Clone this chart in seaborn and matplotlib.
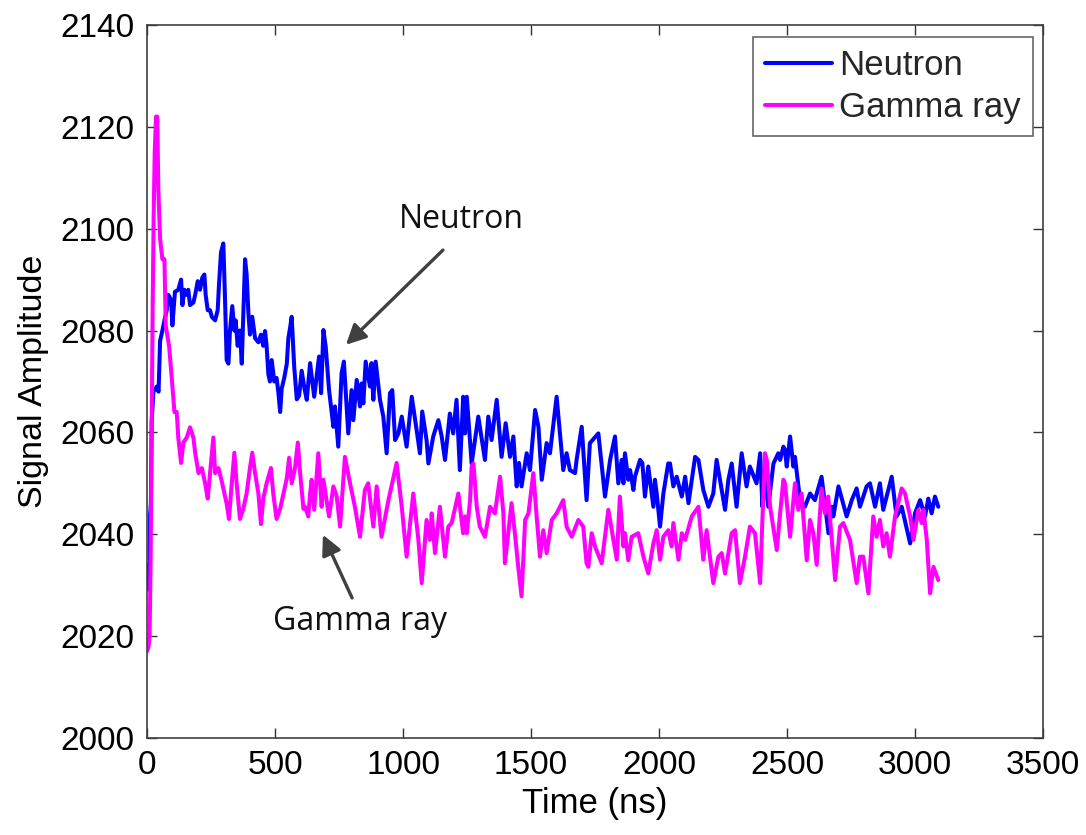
import matplotlib
matplotlib.use("Agg")
import matplotlib.pyplot as plt
import seaborn as sns
import pandas as pd

# Neutron pulse: time (ns) and signal amplitude
time_neutron = [0, 5, 9, 12, 15, 18, 25, 38, 45, 51, 60, 68, 77, 83, 94, 99, 109, 122, 133, 138,
                146, 155, 161, 168, 181, 188, 198, 207, 216, 224, 229, 237, 246, 253, 266, 276, 281, 289, 298, 305,
                311, 318, 324, 333, 341, 346, 354, 363, 370, 376, 383, 389, 396, 402, 411, 422, 435, 445, 454, 461,
                467, 474, 480, 487, 497, 506, 513, 520, 526, 536, 546, 552, 559, 565, 575, 585, 594, 604, 615,
                624, 637, 653, 672, 680, 689, 698, 711, 728, 734, 747, 760, 769, 786, 799, 806, 819, 832, 838, 845,
                854, 871, 877, 884, 893, 910, 923, 936, 949, 958, 969, 982, 995, 1014, 1034, 1053, 1066, 1075, 1092,
                1099, 1118, 1138, 1151, 1164, 1183, 1196, 1209, 1222, 1235,
                1242, 1249, 1268, 1294, 1320, 1333, 1346, 1366, 1385, 1401, 1418, 1431, 1444, 1453, 1463, 1483, 1496,
                1516, 1529, 1542, 1561, 1574, 1600, 1613, 1626, 1639, 1652, 1672, 1678, 1698, 1717, 1730, 1763, 1789,
                1809, 1828, 1841, 1854, 1861,
                1867, 1880, 1887, 1900, 1906, 1926, 1935, 1945, 1958, 1978, 1984, 1991, 2004, 2017, 2036, 2043, 2056,
                2069, 2089, 2102, 2115, 2128, 2141, 2154, 2173, 2193, 2212, 2225, 2238, 2258, 2271, 2284, 2303, 2323,
                2342, 2355, 2381, 2395, 2404, 2411, 2427, 2447, 2466, 2473, 2486,
                2492, 2499, 2512, 2525, 2531, 2551, 2570, 2590, 2609, 2635, 2662, 2675, 2681, 2701, 2733, 2753, 2772,
                2785, 2811, 2824, 2844, 2863, 2876, 2909, 2928, 2948, 2981, 3000, 3020, 3039, 3052, 3065, 3078, 3091]
amp_neutron = [2030, 2034, 2029, 2044, 2046, 2062, 2068, 2069, 2068, 2078, 2080, 2082, 2084, 2087, 2086, 2081, 2087.6, 2088, 2090, 2085,
               2088, 2087, 2088, 2085, 2085.5, 2087, 2089.7, 2088, 2090.4, 2091, 2087, 2084, 2084, 2082.7, 2082, 2084, 2089, 2095.4, 2097.1, 2085.5,
               2074.2, 2073.5, 2080, 2084.8, 2080, 2082, 2077, 2080, 2073.5, 2082.7, 2094, 2091, 2083.4, 2079.2, 2082.7, 2078.5, 2077.7, 2079.2, 2077, 2079.9,
               2077, 2071.4, 2070, 2074.2, 2070, 2070.7, 2067.9, 2064, 2068.6, 2070.7, 2073.5, 2078.5, 2080.6, 2082.7, 2072.8, 2066.5, 2067.2, 2072.1, 2068.6,
               2066.4, 2073.6, 2067.0, 2074.9, 2067.7, 2080.1, 2076.8, 2068.3, 2061.1, 2065.1, 2057.2, 2071.6, 2073.9, 2059.8, 2068.3, 2062.4, 2070.3, 2065.1, 2069.6, 2065.7,
               2073.9, 2069.0, 2073.6, 2066.4, 2073.9, 2066.4, 2063.1, 2055.9, 2067.7, 2068.3, 2058.5, 2059.8, 2063.1, 2057.2, 2067.0, 2060.5, 2055.9, 2064.1, 2058.5,
               2053.9, 2059.2, 2062.4, 2059.2, 2054.6, 2063.7, 2059.8, 2066.4, 2052.6, 2067.0,
               2059.8, 2067.0, 2053.9, 2063.1, 2054.6, 2063.1, 2058.5, 2066.4, 2055.2, 2061.8, 2055.2, 2059.2, 2049.4, 2054.0, 2049.4, 2055.9, 2052.6,
               2064.4, 2061.1, 2050.7, 2057.9, 2055.9, 2067.0, 2059.8, 2052.6, 2055.9, 2052.6, 2052.0, 2054.6, 2061.1, 2046.7, 2057.9, 2059.8, 2047.4,
               2054.6, 2059.2, 2050.0, 2054.6, 2050.0,
               2055.9, 2050.7, 2052.6, 2048.7, 2051.3, 2054.6, 2054.0, 2047.4, 2053.3, 2045.4, 2050.7, 2048.0, 2041.5, 2048.0, 2053.9, 2053.9, 2049.4,
               2051.3, 2047.4, 2051.3, 2046.1, 2050.7, 2055.2, 2054.6, 2048.7, 2045.4, 2048.0, 2054.6, 2050.7, 2044.8, 2050.7, 2053.9, 2045.4, 2055.9,
               2049.4, 2053.3, 2050.0, 2055.9, 2045.4, 2051.3, 2045.4, 2053.9, 2055.9, 2054.6, 2057.2,
               2056.6, 2053.3, 2059.2, 2053.3, 2055.2, 2046.7, 2045.4, 2048.0, 2046.7, 2051.3, 2040.2, 2045.4, 2043.5, 2049.4, 2043.5, 2046.7, 2049.0,
               2045.4, 2049.4, 2050.0, 2045.4, 2050.0, 2044.8, 2051.3, 2043.5, 2045.4, 2038.2, 2044.1, 2046.7, 2043.5, 2047.0, 2044.1, 2047.4, 2045.4]

# Gamma-ray pulse: time (ns) and signal amplitude
time_gamma = [0, 6, 10, 14, 18, 22, 26, 30, 35, 40, 44, 51, 60, 68, 73, 86, 96, 107, 116, 122,
              133, 142, 155, 168, 181, 188, 201, 214, 227, 237, 246, 259, 266, 279, 289, 298, 311, 320, 331, 341,
              350, 363, 376, 389, 402, 411, 422, 435, 445, 454, 467, 484, 493, 506, 520, 533, 546, 555, 565, 578,
              589, 598, 611,
              617, 630, 637, 643, 653, 669, 682, 689, 711, 728, 741, 754, 773, 793, 812, 832, 851, 864, 884, 897,
              916, 943, 975, 995, 1014, 1040, 1060, 1073, 1092, 1105, 1112, 1125, 1144, 1164, 1177, 1190, 1216, 1235,
              1242, 1249, 1262, 1268, 1275, 1288, 1300, 1320, 1340, 1359, 1379, 1392, 1398, 1411, 1424, 1437, 1450,
              1463, 1477, 1490, 1509, 1522, 1535, 1548, 1561, 1581, 1600, 1626, 1639, 1659, 1685, 1704, 1717, 1724,
              1737, 1750, 1776, 1802, 1822, 1835, 1847, 1861,
              1867, 1880, 1893, 1919, 1939, 1958, 1978, 1991, 2004, 2017, 2036, 2049, 2056, 2076, 2089, 2102, 2128,
              2154, 2173, 2186, 2212, 2232, 2245, 2258, 2284, 2297, 2316, 2336, 2355, 2375, 2395, 2404, 2414, 2421,
              2434, 2460, 2473, 2486,
              2492, 2512, 2531, 2544, 2557, 2577, 2590, 2603, 2616, 2635, 2648, 2661, 2688, 2707, 2720, 2746, 2772,
              2785, 2798, 2818, 2837, 2850, 2863, 2876, 2889, 2902, 2922, 2948, 2961, 2981, 2994, 3013, 3026, 3033,
              3046, 3059, 3072, 3091]
amp_gamma = [2017, 2018, 2020, 2035, 2060, 2085, 2103, 2115, 2122, 2122, 2108, 2098, 2094, 2094, 2081, 2077, 2071, 2064, 2064, 2059,
             2054, 2058, 2059, 2061, 2059, 2056, 2052, 2053, 2050, 2047, 2052, 2059, 2052, 2053, 2051, 2049, 2046, 2043, 2050, 2056,
             2050, 2043, 2045, 2048, 2053, 2056, 2052, 2048, 2042, 2047, 2050, 2053, 2048, 2043, 2045, 2048, 2051, 2055, 2050, 2053,
             2058, 2052, 2045,
             2045.4, 2043.5, 2048.0, 2050.7, 2044.8, 2055.9, 2045.4, 2050.7, 2043.5, 2049.4, 2047.4, 2041.5, 2055.2, 2050.0, 2045.4, 2039.5, 2048.7, 2050.0, 2041.5, 2049.4,
             2039.5, 2046.7, 2054.0, 2045.4, 2035.6, 2048.0, 2038.9, 2030.4, 2042.8, 2038.9, 2044.1, 2036.3, 2045.4, 2035.6, 2041.5, 2042.2, 2048.0, 2040.2,
             2043.5, 2040.2, 2046.7, 2053.3, 2053.9, 2045.4, 2041.5, 2039.5, 2045.4, 2044.1, 2051.3, 2044.1, 2034.3, 2040.2, 2046.1, 2040.2, 2033.6,
             2027.8, 2042.8, 2044.1, 2052.0, 2043.5, 2035.6, 2040.8, 2036.3, 2042.8, 2044.1, 2046.7, 2041.5, 2039.5, 2042.8, 2041.5, 2034.3, 2033.6,
             2040.2, 2037.6, 2034.3, 2044.8, 2038.9, 2035.0, 2047.4, 2037.6,
             2040.2, 2034.9, 2039.5, 2040.2, 2035.6, 2032.3, 2038.2, 2040.8, 2035.0, 2039.5, 2040.8, 2037.6, 2042.2, 2035.0, 2040.2, 2038.9, 2043.5,
             2045.4, 2035.0, 2040.8, 2030.4, 2035.6, 2036.3, 2032.3, 2040.2, 2040.8, 2030.4, 2035.6, 2041.5, 2040.2, 2030.4, 2043.0, 2055.9, 2054.6,
             2045.4, 2036.9, 2044.1, 2050.7,
             2050.0, 2039.5, 2050.0, 2044.8, 2048.0, 2034.9, 2042.8, 2040.2, 2034.0, 2049.0, 2044.1, 2047.4, 2031.0, 2041.5, 2042.2, 2038.9, 2030.4,
             2035.6, 2035.6, 2028.4, 2043.5, 2039.5, 2042.8, 2037.6, 2040.2, 2035.6, 2043.5, 2049.0, 2048.0, 2043.5, 2038.9, 2044.8, 2042.2, 2044.8,
             2038.9, 2028.4, 2033.6, 2031.0]

series_names = ["Neutron", "Gamma ray"]
series_colors = ["#0000FF", "#FF00FF"]
x_ticks = [0, 500, 1000, 1500, 2000, 2500, 3000, 3500]
y_ticks = [2000, 2020, 2040, 2060, 2080, 2100, 2120, 2140]

df = pd.concat([
    pd.DataFrame({"Time (ns)": time_neutron, "Signal Amplitude": amp_neutron, "Signal": series_names[0]}),
    pd.DataFrame({"Time (ns)": time_gamma, "Signal Amplitude": amp_gamma, "Signal": series_names[1]}),
], ignore_index=True)

sns.set_theme(style="white")
plt.rcParams["font.family"] = ["Liberation Sans", "DejaVu Sans"]

fig = plt.figure(figsize=(10.86, 8.35), dpi=100)
ax = fig.add_axes([0.1354, 0.1162, 0.8250, 0.8539])

sns.lineplot(data=df, x="Time (ns)", y="Signal Amplitude", hue="Signal",
             hue_order=series_names, palette=dict(zip(series_names, series_colors)),
             estimator=None, sort=False, linewidth=2.9, ax=ax)

ax.set_xlim(x_ticks[0], x_ticks[-1])
ax.set_ylim(y_ticks[0], y_ticks[-1])
ax.set_xticks(x_ticks)
ax.set_yticks(y_ticks)
ax.tick_params(axis="both", which="major", direction="in", length=7, width=1.0,
               color="#333333", labelsize=24, pad=9,
               top=True, right=True, bottom=True, left=True, labelcolor="black")
for sp in ax.spines.values():
    sp.set_visible(True)
    sp.set_color("#404040")
    sp.set_linewidth(1.2)

ax.set_xlabel("Time (ns)", fontsize=25, labelpad=4, color="black")
ax.set_ylabel("Signal Amplitude", fontsize=24.5, labelpad=8, color="black")

handles, labels = ax.get_legend_handles_labels()
leg = ax.legend(handles, labels, loc="upper right", bbox_to_anchor=(0.989, 0.983),
                borderaxespad=0, fontsize=25, frameon=True, fancybox=False,
                handlelength=1.95, handletextpad=0.2, labelspacing=0.25,
                borderpad=0.35)
leg.get_frame().set_edgecolor("#404040")
leg.get_frame().set_linewidth(1.2)
for line in leg.get_lines():
    line.set_linewidth(2.9)

# Callouts identifying each pulse
arrow_style = dict(arrowstyle="-|>", color="#404040", lw=2.4, mutation_scale=30,
                   shrinkA=0, shrinkB=0)
ax.text(1227, 2101.9, "Neutron", ha="center", va="center", fontsize=23,
        family=["Open Sans", "DejaVu Sans"], color="#111111")
ax.annotate("", xy=(777, 2077.2), xytext=(1156, 2095.8), arrowprops=arrow_style)
ax.text(832, 2022.8, "Gamma ray", ha="center", va="center", fontsize=23,
        family=["Open Sans", "DejaVu Sans"], color="#111111")
ax.annotate("", xy=(687, 2039.9), xytext=(801, 2027.5), arrowprops=arrow_style)

fig.savefig("out.png", dpi=100)
